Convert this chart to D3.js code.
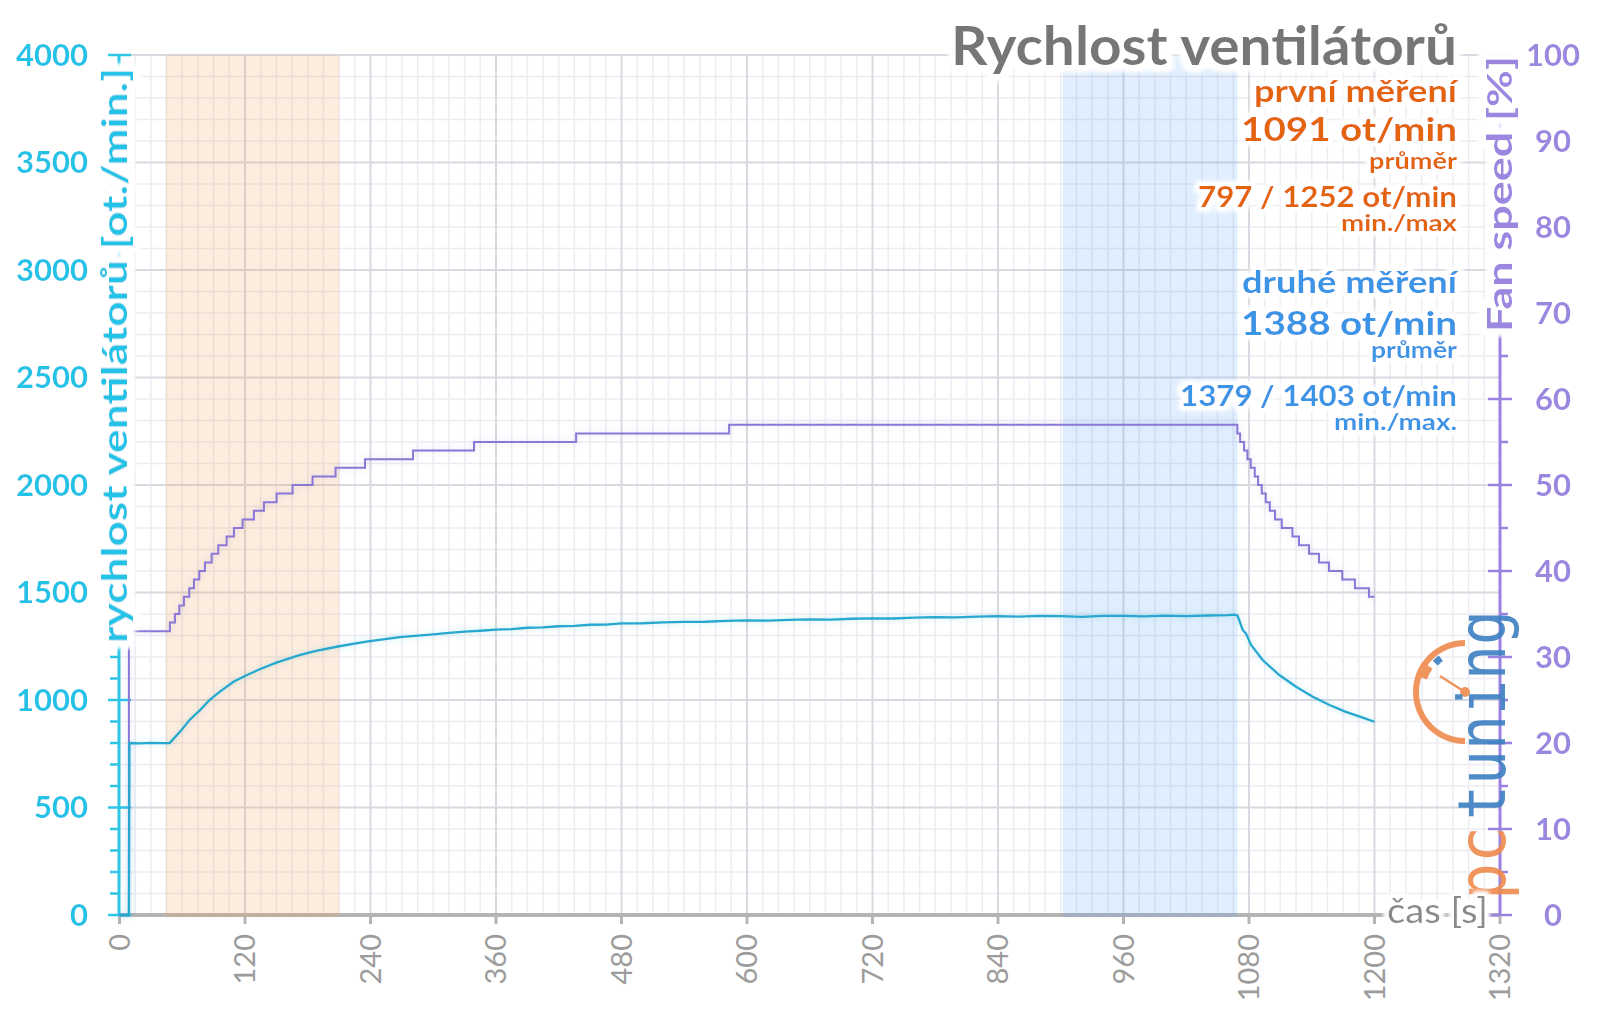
<!DOCTYPE html>
<html><head><meta charset="utf-8">
<script src="https://cdn.jsdelivr.net/npm/d3@7"></script>
<style>
html,body{margin:0;padding:0;background:#fff;}
svg{display:block;font-family:Lato,'Open Sans',sans-serif;}
</style></head>
<body>
<svg id="chart" width="1600" height="1009"></svg>
<script>
// ---------- data ----------
const xTicks = [0,120,240,360,480,600,720,840,960,1080,1200,1320];
const rpmTicks = [0,500,1000,1500,2000,2500,3000,3500,4000];
const pctTicks = [0,10,20,30,40,50,60,70,80,90,100];
const firstRange = [44,210];
const secondRange = [902,1069];
// fan speed in rpm (time s, rpm)
const rpmTime = [0,9,9.5,20,30,40,48,58,67,77,86,96,109,120,134,150,172,188,210,236,268,300,315,330,345,360,375,390,405,420,435,450,465,480,500,520,540,560,580,600,620,640,660,680,700,720,740,760,780,800,820,840,860,880,900,920,940,960,980,1000,1020,1040,1060,1066,1069,1074,1077,1082,1093,1109,1125,1141,1157,1172,1188,1200];
const rpmValue = [0,0,800,798,801,799,800,853,907,953,1000,1039,1085,1112,1143,1174,1209,1229,1250,1271,1292,1305,1312,1318,1322,1327,1330,1336,1338,1343,1345,1350,1351,1356,1357,1361,1363,1364,1368,1370,1369,1373,1375,1374,1378,1380,1379,1383,1385,1384,1388,1390,1388,1391,1390,1387,1391,1391,1389,1392,1390,1393,1395,1397,1393,1326,1310,1256,1186,1116,1062,1015,977,946,919,899];
// fan speed in % (step after: time s, %)
const pctTime = [0,9,48.2,53,57.2,61.6,66.7,71.2,76.3,81.7,88.1,94.4,102.4,109.4,117.7,128.5,138.1,150.2,165.5,184.6,206.6,234.8,280.7,339,436.6,582.9,1068.9,1071.5,1075.3,1078.5,1081.7,1085.5,1088.7,1092.2,1096,1099.9,1104.9,1111.3,1121.5,1127.8,1137.4,1146.9,1156.5,1169.2,1181.3,1194.7,1200];
const pctValue = [0,33,34,35,36,37,38,39,40,41,42,43,44,45,46,47,48,49,50,51,52,53,54,55,56,57,56,55,54,53,52,51,50,49,48,47,46,45,44,43,42,41,40,39,38,37,37];
const title = "Rychlost ventilátorů";
const firstLines = ["první měření","1091 ot/min","průměr","797 / 1252 ot/min","min./max"];
const secondLines = ["druhé měření","1388 ot/min","průměr","1379 / 1403 ot/min","min./max."];

// ---------- layout ----------
const svg = d3.select("#chart");
const x = d3.scaleLinear().domain([0,1320]).range([119.5,1500]);
const yL = d3.scaleLinear().domain([0,4000]).range([915,55]);
const yR = d3.scaleLinear().domain([0,100]).range([915,55]);

const defs = svg.append("defs");
function glow(id, r, blur){
  const f = defs.append("filter").attr("id",id).attr("x","-20%").attr("y","-40%").attr("width","140%").attr("height","180%");
  f.append("feMorphology").attr("in","SourceAlpha").attr("operator","dilate").attr("radius",r).attr("result","d");
  f.append("feGaussianBlur").attr("in","d").attr("stdDeviation",blur).attr("result","b");
  f.append("feFlood").attr("flood-color","#fff").attr("result","fl");
  f.append("feComposite").attr("in","fl").attr("in2","b").attr("operator","in").attr("result","w");
  const m = f.append("feMerge");
  m.append("feMergeNode").attr("in","w");
  m.append("feMergeNode").attr("in","w");
  m.append("feMergeNode").attr("in","SourceGraphic");
}
glow("glow",4,2);
glow("glowAxis",7,2);
glow("glowBig",6,2.5);
const lineShadow = defs.append("filter").attr("id","lshadow").attr("x","-5%").attr("y","-20%").attr("width","110%").attr("height","140%");
lineShadow.append("feGaussianBlur").attr("in","SourceGraphic").attr("stdDeviation",3).attr("result","b");
lineShadow.append("feColorMatrix").attr("in","b").attr("type","matrix").attr("values","1 0 0 0 0 0 1 0 0 0 0 0 1 0 0 0 0 0 0.25 0").attr("result","s");
const lm = lineShadow.append("feMerge");
lm.append("feMergeNode").attr("in","s");
lm.append("feMergeNode").attr("in","SourceGraphic");

// grid
const grid = svg.append("g");
const minorX = d3.range(0,1321,15).filter(t=>t%120!==0);
const minorY = d3.range(0,4001,100).filter(v=>v%500!==0);
grid.selectAll(".mx").data(minorX).join("line")
  .attr("x1",d=>x(d)).attr("x2",d=>x(d)).attr("y1",yL(4000)).attr("y2",yL(0))
  .attr("stroke","#ececf2").attr("stroke-width",1.5);
grid.selectAll(".my").data(minorY).join("line")
  .attr("x1",x(0)).attr("x2",x(1320)).attr("y1",d=>yL(d)).attr("y2",d=>yL(d))
  .attr("stroke","#ececf2").attr("stroke-width",1.5);
grid.selectAll(".Mx").data(xTicks.filter(t=>t>0&&t<1320)).join("line")
  .attr("x1",d=>x(d)).attr("x2",d=>x(d)).attr("y1",yL(4000)).attr("y2",yL(0))
  .attr("stroke","#d9d9e1").attr("stroke-width",2);
grid.selectAll(".My").data(rpmTicks.filter(v=>v>0)).join("line")
  .attr("x1",x(0)).attr("x2",x(1320)).attr("y1",d=>yL(d)).attr("y2",d=>yL(d))
  .attr("stroke","#d9d9e1").attr("stroke-width",2);

// x axis line
svg.append("line").attr("x1",x(0)).attr("x2",x(1320)).attr("y1",yL(0)).attr("y2",yL(0))
  .attr("stroke","#b4b4b4").attr("stroke-width",4);
svg.append("g").selectAll("line").data(xTicks).join("line")
  .attr("x1",d=>x(d)).attr("x2",d=>x(d)).attr("y1",yL(0)).attr("y2",yL(0)+9)
  .attr("stroke","#b4b4b4").attr("stroke-width",3);

// bands
svg.append("rect").attr("x",x(firstRange[0])).attr("width",x(firstRange[1])-x(firstRange[0]))
  .attr("y",yL(4000)).attr("height",yL(0)-yL(4000)+2).attr("fill","rgb(247,160,80)").attr("fill-opacity",0.19);
svg.append("rect").attr("x",x(secondRange[0])).attr("width",x(secondRange[1])-x(secondRange[0]))
  .attr("y",yL(4000)).attr("height",yL(0)-yL(4000)+2).attr("fill","rgb(60,150,240)").attr("fill-opacity",0.16);

// left axis
const la = svg.append("g");
la.append("line").attr("x1",119).attr("x2",119).attr("y1",yL(4000)).attr("y2",yL(0)).attr("stroke","#2ec5e6").attr("stroke-width",3);
la.selectAll(".mn").data(minorY).join("line").attr("x1",110).attr("x2",119).attr("y1",d=>yL(d)).attr("y2",d=>yL(d)).attr("stroke","#2ec5e6").attr("stroke-width",2.5);
la.selectAll(".mj").data(rpmTicks).join("line").attr("x1",108).attr("x2",131).attr("y1",d=>yL(d)).attr("y2",d=>yL(d)).attr("stroke","#2ec5e6").attr("stroke-width",2.5);

// right axis
const ra = svg.append("g");
ra.append("line").attr("x1",1500).attr("x2",1500).attr("y1",yR(100)).attr("y2",yR(0)).attr("stroke","#9a82e0").attr("stroke-width",3);
ra.selectAll(".mn").data(d3.range(5,100,10)).join("line").attr("x1",1500).attr("x2",1508).attr("y1",d=>yR(d)).attr("y2",d=>yR(d)).attr("stroke","#9a82e0").attr("stroke-width",2.5);
ra.selectAll(".mj").data(pctTicks).join("line").attr("x1",1488).attr("x2",1512).attr("y1",d=>yR(d)).attr("y2",d=>yR(d)).attr("stroke","#9a82e0").attr("stroke-width",2.5);

// data lines
const pctData = pctTime.map((t,i)=>[t,pctValue[i]]);
const rpmData = rpmTime.map((t,i)=>[t,rpmValue[i]]);
svg.append("path").datum(pctData)
  .attr("d",d3.line().x(d=>x(d[0])).y(d=>yR(d[1])).curve(d3.curveStepAfter))
  .attr("fill","none").attr("stroke","#8a77d6").attr("stroke-width",2).attr("filter","url(#lshadow)");
svg.append("path").datum(rpmData)
  .attr("d",d3.line().x(d=>x(d[0])).y(d=>yL(d[1])))
  .attr("fill","none").attr("stroke","#27a8cf").attr("stroke-width",2.3).attr("filter","url(#lshadow)");

// logo
const logo = svg.append("g").attr("opacity",0.9);
const arc = d3.arc();
logo.append("path").attr("transform","translate(1465,692)")
  .attr("d",arc({innerRadius:46,outerRadius:52,startAngle:-Math.PI,endAngle:0})).attr("fill","#f08a4e");
logo.append("path").attr("transform","translate(1465,692)")
  .attr("d",arc({innerRadius:40,outerRadius:52,startAngle:-1.25,endAngle:-0.95})).attr("fill","#f08a4e");
logo.append("path").attr("transform","translate(1465,692)")
  .attr("d",arc({innerRadius:38,outerRadius:45,startAngle:-0.8,endAngle:-0.62})).attr("fill","#3c7fc1");
logo.append("line").attr("x1",1465).attr("y1",692).attr("x2",1440).attr("y2",676).attr("stroke","#f08a4e").attr("stroke-width",2.5);
logo.append("circle").attr("cx",1465).attr("cy",692).attr("r",5).attr("fill","#f08a4e");
logo.append("text").attr("transform","translate(1505,820) rotate(-90)")
  .attr("font-family","'DejaVu Sans Mono',monospace").attr("font-size",66)
  .attr("fill","#3c7fc1").attr("textLength",210).attr("lengthAdjust","spacingAndGlyphs").text("tuning");
logo.append("text").attr("transform","translate(1505,900) rotate(-90)")
  .attr("font-family","'DejaVu Sans Mono',monospace").attr("font-size",66)
  .attr("fill","#f08a4e").attr("textLength",74).attr("lengthAdjust","spacingAndGlyphs").text("pc");

// tick labels
svg.append("g").selectAll("text").data(rpmTicks).join("text")
  .attr("x",88).attr("y",d=>yL(d)).attr("dy","0.35em").attr("text-anchor","end")
  .attr("font-size",31).attr("font-weight","bold").attr("fill","#22c3e6").attr("filter","url(#glow)")
  .text(d=>d);
svg.append("g").selectAll("text").data(pctTicks).join("text")
  .attr("x",1553).attr("y",d=>yR(d)).attr("dy","0.35em").attr("text-anchor","middle")
  .attr("font-size",31).attr("font-weight","bold").attr("fill","#9b86e0").attr("filter","url(#glow)")
  .text(d=>d);
svg.append("g").selectAll("text").data(xTicks).join("text")
  .attr("transform",d=>`translate(${x(d)},934) rotate(-90)`).attr("dy","0.35em").attr("text-anchor","end")
  .attr("font-size",29).attr("fill","#9c9c9c")
  .text(d=>d);

// axis titles
svg.append("text").attr("transform","translate(127,355.5) rotate(-90)").attr("text-anchor","middle")
  .attr("font-size",34).attr("font-weight","bold").attr("fill","#22c3e6").attr("filter","url(#glowAxis)")
  .attr("textLength",575).attr("lengthAdjust","spacingAndGlyphs").text("rychlost ventilátorů [ot./min.]");
svg.append("text").attr("transform","translate(1512,194) rotate(-90)").attr("text-anchor","middle")
  .attr("font-size",34).attr("font-weight","bold").attr("fill","#9b86e0").attr("filter","url(#glowAxis)")
  .attr("textLength",276).attr("lengthAdjust","spacingAndGlyphs").text("Fan speed [%]");
svg.append("text").attr("x",1387).attr("y",923)
  .attr("font-size",34).attr("fill","#8a8a8a").attr("filter","url(#glow)")
  .attr("textLength",101).attr("lengthAdjust","spacingAndGlyphs").text("čas [s]");

// title and stats
const rx = 1457;
svg.append("text").attr("x",rx).attr("y",65).attr("text-anchor","end")
  .attr("font-size",53).attr("font-weight","bold").attr("fill","#767676").attr("filter","url(#glowBig)")
  .attr("textLength",506).attr("lengthAdjust","spacingAndGlyphs").text(title);
const statSize = [30,33,22,29,23];
const firstW = [203,216,88,259,116];
const firstY = [102,141,169,207,231];
const secondY = [293,335,358,406,430];
const secondW = [215,216,86,277,123];
function block(lines, ys, widths, color){
  svg.append("g").selectAll("text").data(lines).join("text")
    .attr("x",rx).attr("y",(d,i)=>ys[i]).attr("text-anchor","end")
    .attr("font-size",(d,i)=>statSize[i]).attr("font-weight","bold").attr("fill",color)
    .attr("filter","url(#glow)")
    .attr("textLength",(d,i)=>widths[i]).attr("lengthAdjust","spacingAndGlyphs")
    .text(d=>d);
}
block(firstLines, firstY, firstW, "#e4640c");
block(secondLines, secondY, secondW, "#3a94e6");
</script>
</body></html>
